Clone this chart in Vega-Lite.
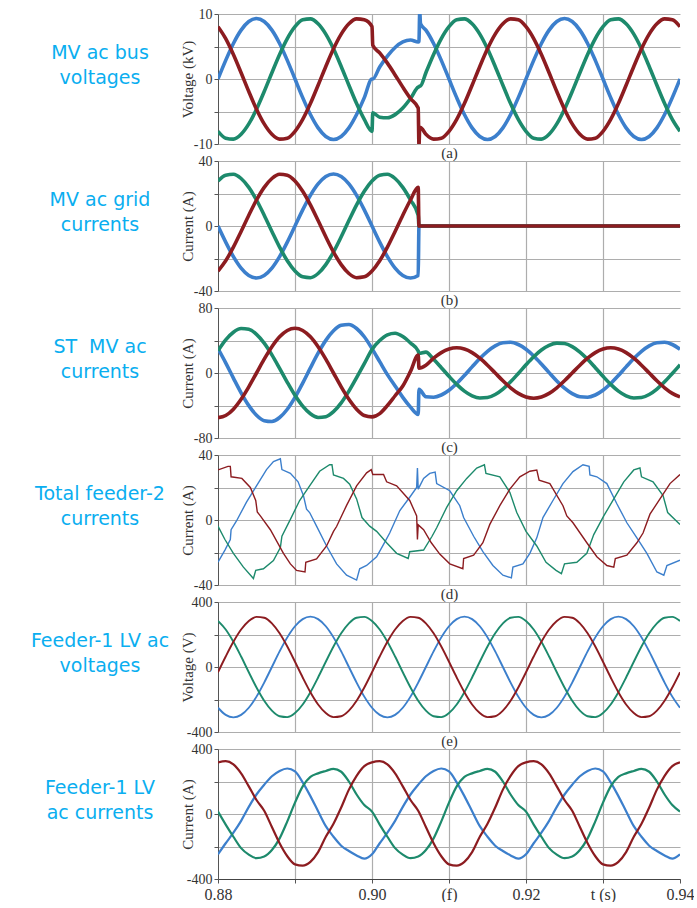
{
"$schema": "https://vega.github.io/schema/vega-lite/v6.json",
"background": "white",
"padding": {"left": 0, "top": 7, "right": 0, "bottom": 0},
"config": {
  "view": {"stroke": null},
  "axis": {"gridColor": "#adadad", "gridWidth": 1.2, "domainColor": "#555555", "tickColor": "#555555", "labelFont": "Liberation Serif", "labelFontSize": 14, "labelColor": "#333333", "titleFont": "Liberation Serif", "titleFontSize": 15, "titleFontWeight": "normal", "titleColor": "#333333"},
  "axisY": {"tickSize": 4, "labelPadding": 2, "titlePadding": 3, "minExtent": 20, "maxExtent": 20, "grid": true},
  "axisX": {"grid": true},
  "line": {"clip": true}
},
"datasets": {
"pa": [
{"t":0.880,"b":0,"g":-8.05,"r":8.05},{"t":0.881,"b":2.87,"g":-9.10,"r":6.22},{"t":0.882,"b":5.47,"g":-9.25,"r":3.78},{"t":0.883,"b":7.52,"g":-8.50,"r":0.97},{"t":0.884,"b":8.84,"g":-6.91,"r":-1.93},{"t":0.885,"b":9.3,"g":-4.65,"r":-4.65},{"t":0.886,"b":8.84,"g":-1.93,"r":-6.91},{"t":0.887,"b":7.52,"g":0.97,"r":-8.50},{"t":0.888,"b":5.47,"g":3.78,"r":-9.25},{"t":0.889,"b":2.87,"g":6.22,"r":-9.10},
{"t":0.890,"b":0,"g":8.05,"r":-8.05},{"t":0.891,"b":-2.87,"g":9.10,"r":-6.22},{"t":0.892,"b":-5.47,"g":9.25,"r":-3.78},{"t":0.893,"b":-7.52,"g":8.50,"r":-0.97},{"t":0.894,"b":-8.84,"g":6.91,"r":1.93},{"t":0.895,"b":-9.3,"g":4.65,"r":4.65},{"t":0.896,"b":-8.84,"g":1.93,"r":6.91},{"t":0.897,"b":-7.52,"g":-0.97,"r":8.50},{"t":0.898,"b":-5.47,"g":-3.78,"r":9.25},{"t":0.899,"b":-2.87,"g":-6.22,"r":9.10},
{"t":0.900,"b":0,"g":-8.05,"r":8.05},{"t":0.9001,"b":0,"g":-5.19,"r":5.19},{"t":0.901,"b":1.85,"g":-5.87,"r":4.01},{"t":0.902,"b":3.53,"g":-5.97,"r":2.44},{"t":0.903,"b":4.85,"g":-5.48,"r":0.63},{"t":0.904,"b":5.70,"g":-4.46,"r":-1.25},{"t":0.905,"b":6.0,"g":-3.0,"r":-3.0},{"t":0.906,"b":5.70,"g":-1.25,"r":-4.46},{"t":0.9061,"b":5.8,"g":-1.2,"r":-10.2},{"t":0.9062,"b":10.3,"g":-1.1,"r":-7.5},{"t":0.9063,"b":8.5,"g":-1.07,"r":-7.47},
{"t":0.907,"b":7.52,"g":0.97,"r":-8.50},{"t":0.908,"b":5.47,"g":3.78,"r":-9.25},{"t":0.909,"b":2.87,"g":6.22,"r":-9.10},
{"t":0.910,"b":0,"g":8.05,"r":-8.05},{"t":0.911,"b":-2.87,"g":9.10,"r":-6.22},{"t":0.912,"b":-5.47,"g":9.25,"r":-3.78},{"t":0.913,"b":-7.52,"g":8.50,"r":-0.97},{"t":0.914,"b":-8.84,"g":6.91,"r":1.93},{"t":0.915,"b":-9.3,"g":4.65,"r":4.65},{"t":0.916,"b":-8.84,"g":1.93,"r":6.91},{"t":0.917,"b":-7.52,"g":-0.97,"r":8.50},{"t":0.918,"b":-5.47,"g":-3.78,"r":9.25},{"t":0.919,"b":-2.87,"g":-6.22,"r":9.10},
{"t":0.920,"b":0,"g":-8.05,"r":8.05},{"t":0.921,"b":2.87,"g":-9.10,"r":6.22},{"t":0.922,"b":5.47,"g":-9.25,"r":3.78},{"t":0.923,"b":7.52,"g":-8.50,"r":0.97},{"t":0.924,"b":8.84,"g":-6.91,"r":-1.93},{"t":0.925,"b":9.3,"g":-4.65,"r":-4.65},{"t":0.926,"b":8.84,"g":-1.93,"r":-6.91},{"t":0.927,"b":7.52,"g":0.97,"r":-8.50},{"t":0.928,"b":5.47,"g":3.78,"r":-9.25},{"t":0.929,"b":2.87,"g":6.22,"r":-9.10},
{"t":0.930,"b":0,"g":8.05,"r":-8.05},{"t":0.931,"b":-2.87,"g":9.10,"r":-6.22},{"t":0.932,"b":-5.47,"g":9.25,"r":-3.78},{"t":0.933,"b":-7.52,"g":8.50,"r":-0.97},{"t":0.934,"b":-8.84,"g":6.91,"r":1.93},{"t":0.935,"b":-9.3,"g":4.65,"r":4.65},{"t":0.936,"b":-8.84,"g":1.93,"r":6.91},{"t":0.937,"b":-7.52,"g":-0.97,"r":8.50},{"t":0.938,"b":-5.47,"g":-3.78,"r":9.25},{"t":0.939,"b":-2.87,"g":-6.22,"r":9.10},
{"t":0.940,"b":0,"g":-8.05,"r":8.05}
],
"pb": [
{"t":0.880,"b":0,"g":27.71,"r":-27.71},{"t":0.881,"b":-9.89,"g":31.30,"r":-21.41},{"t":0.882,"b":-18.82,"g":31.82,"r":-13.01},{"t":0.883,"b":-25.89,"g":29.23,"r":-3.34},{"t":0.884,"b":-30.43,"g":23.78,"r":6.65},{"t":0.885,"b":-32,"g":16.0,"r":16.0},{"t":0.886,"b":-30.43,"g":6.65,"r":23.78},{"t":0.887,"b":-25.89,"g":-3.34,"r":29.23},{"t":0.888,"b":-18.82,"g":-13.01,"r":31.82},{"t":0.889,"b":-9.89,"g":-21.41,"r":31.30},
{"t":0.890,"b":0,"g":-27.71,"r":27.71},{"t":0.891,"b":9.89,"g":-31.30,"r":21.41},{"t":0.892,"b":18.82,"g":-31.82,"r":13.01},{"t":0.893,"b":25.89,"g":-29.23,"r":3.34},{"t":0.894,"b":30.43,"g":-23.78,"r":-6.65},{"t":0.895,"b":32,"g":-16.0,"r":-16.0},{"t":0.896,"b":30.43,"g":-6.65,"r":-23.78},{"t":0.897,"b":25.89,"g":3.34,"r":-29.23},{"t":0.898,"b":18.82,"g":13.01,"r":-31.82},{"t":0.899,"b":9.89,"g":21.41,"r":-31.30},
{"t":0.900,"b":0,"g":27.71,"r":-27.71},{"t":0.901,"b":-9.89,"g":31.30,"r":-21.41},{"t":0.902,"b":-18.82,"g":31.82,"r":-13.01},{"t":0.903,"b":-25.89,"g":29.23,"r":-3.34},{"t":0.904,"b":-30.43,"g":23.78,"r":6.65},{"t":0.905,"b":-32,"g":16.0,"r":16.0},{"t":0.906,"b":-30.43,"g":6.65,"r":23.78},
{"t":0.9061,"b":0,"g":0,"r":0},{"t":0.920,"b":0,"g":0,"r":0},{"t":0.940,"b":0,"g":0,"r":0}
],
"pc": [
{"t":0.880,"b":30,"g":27.5,"r":-55},{"t":0.881,"b":12.47,"g":40.87,"r":-52.3},{"t":0.882,"b":-6.27,"g":50.24,"r":-44.5},{"t":0.883,"b":-24.40,"g":54.70,"r":-32.3},{"t":0.884,"b":-40.15,"g":53.79,"r":-17.0},{"t":0.885,"b":-51.96,"g":47.63,"r":0},{"t":0.886,"b":-58.68,"g":36.80,"r":17.0},{"t":0.887,"b":-59.67,"g":22.37,"r":32.3},{"t":0.888,"b":-54.81,"g":5.75,"r":44.5},{"t":0.889,"b":-44.59,"g":-11.43,"r":52.3},
{"t":0.890,"b":-30,"g":-27.5,"r":55},{"t":0.891,"b":-12.47,"g":-40.87,"r":52.3},{"t":0.892,"b":6.27,"g":-50.24,"r":44.5},{"t":0.893,"b":24.40,"g":-54.70,"r":32.3},{"t":0.894,"b":40.15,"g":-53.79,"r":17.0},{"t":0.895,"b":51.96,"g":-47.63,"r":0},{"t":0.896,"b":58.68,"g":-36.80,"r":-17.0},{"t":0.897,"b":59.67,"g":-22.37,"r":-32.3},{"t":0.898,"b":54.81,"g":-5.75,"r":-44.5},{"t":0.899,"b":44.59,"g":11.43,"r":-52.3},
{"t":0.900,"b":30,"g":29,"r":-54},{"t":0.901,"b":14,"g":40,"r":-50},{"t":0.902,"b":-2,"g":47,"r":-40},{"t":0.903,"b":-16,"g":49,"r":-28},{"t":0.904,"b":-30,"g":45,"r":-16},{"t":0.905,"b":-42,"g":37,"r":2},{"t":0.906,"b":-51,"g":27,"r":22},
{"t":0.9061,"b":-20,"g":24,"r":6},{"t":0.907,"b":-29.25,"g":25.75,"r":9.58},{"t":0.908,"b":-29.81,"g":16.83,"r":18.23},{"t":0.909,"b":-27.06,"g":6.55,"r":25.08},
{"t":0.910,"b":-21.27,"g":-4.07,"r":29.48},{"t":0.911,"b":-13,"g":-14,"r":31},{"t":0.912,"b":-3.07,"g":-22.27,"r":29.48},{"t":0.913,"b":7.55,"g":-28.06,"r":25.08},{"t":0.914,"b":17.83,"g":-30.81,"r":18.23},{"t":0.915,"b":26.75,"g":-30.25,"r":9.58},{"t":0.916,"b":33.44,"g":-26.44,"r":0},{"t":0.917,"b":37.25,"g":-19.75,"r":-9.58},{"t":0.918,"b":37.81,"g":-10.83,"r":-18.23},{"t":0.919,"b":35.06,"g":-0.55,"r":-25.08},
{"t":0.920,"b":29.27,"g":10.07,"r":-29.48},{"t":0.921,"b":21,"g":20,"r":-31},{"t":0.922,"b":11.07,"g":28.27,"r":-29.48},{"t":0.923,"b":0.45,"g":34.06,"r":-25.08},{"t":0.924,"b":-9.83,"g":36.81,"r":-18.23},{"t":0.925,"b":-18.75,"g":36.25,"r":-9.58},{"t":0.926,"b":-25.44,"g":32.44,"r":0},{"t":0.927,"b":-29.25,"g":25.75,"r":9.58},{"t":0.928,"b":-29.81,"g":16.83,"r":18.23},{"t":0.929,"b":-27.06,"g":6.55,"r":25.08},
{"t":0.930,"b":-21.27,"g":-4.07,"r":29.48},{"t":0.931,"b":-13,"g":-14,"r":31},{"t":0.932,"b":-3.07,"g":-22.27,"r":29.48},{"t":0.933,"b":7.55,"g":-28.06,"r":25.08},{"t":0.934,"b":17.83,"g":-30.81,"r":18.23},{"t":0.935,"b":26.75,"g":-30.25,"r":9.58},{"t":0.936,"b":33.44,"g":-26.44,"r":0},{"t":0.937,"b":37.25,"g":-19.75,"r":-9.58},{"t":0.938,"b":37.81,"g":-10.83,"r":-18.23},{"t":0.939,"b":35.06,"g":-0.55,"r":-25.08},
{"t":0.940,"b":29.27,"g":10.07,"r":-29.48}
],
"pd": [
{"t":0.8800,"s":"b","v":-26},{"t":0.8809,"s":"b","v":-18.5},{"t":0.8816,"s":"b","v":-12},{"t":0.8817,"s":"b","v":-6},{"t":0.8824,"s":"b","v":-0.6},{"t":0.8837,"s":"b","v":11},{"t":0.8850,"s":"b","v":21},{"t":0.8863,"s":"b","v":31},{"t":0.8872,"s":"b","v":36},{"t":0.8881,"s":"b","v":37.7},{"t":0.8883,"s":"b","v":31},{"t":0.8894,"s":"b","v":28.7},{"t":0.8904,"s":"b","v":23.5},{"t":0.8911,"s":"b","v":15},{"t":0.8915,"s":"b","v":6.7},{"t":0.8919,"s":"b","v":4.6},{"t":0.8928,"s":"b","v":-3.8},{"t":0.8941,"s":"b","v":-16},{"t":0.8954,"s":"b","v":-27},{"t":0.8967,"s":"b","v":-34},{"t":0.8980,"s":"b","v":-37},{"t":0.8984,"s":"b","v":-30},{"t":0.8993,"s":"b","v":-28},{"t":0.9006,"s":"b","v":-22.6},{"t":0.9015,"s":"b","v":-15},{"t":0.9023,"s":"b","v":-8},{"t":0.9036,"s":"b","v":5.7},{"t":0.9049,"s":"b","v":14},{"t":0.9058,"s":"b","v":20},{"t":0.9059,"s":"b","v":32},{"t":0.9060,"s":"b","v":19},{"t":0.9067,"s":"b","v":25.6},{"t":0.9075,"s":"b","v":28.7},{"t":0.9082,"s":"b","v":29.5},{"t":0.9084,"s":"b","v":22.4},{"t":0.9101,"s":"b","v":18},{"t":0.9114,"s":"b","v":8.8},{"t":0.9119,"s":"b","v":1.5},{"t":0.9132,"s":"b","v":-10},{"t":0.9144,"s":"b","v":-19.5},{"t":0.9157,"s":"b","v":-28},{"t":0.9170,"s":"b","v":-34},{"t":0.9181,"s":"b","v":-35.6},{"t":0.9183,"s":"b","v":-29},{"t":0.9196,"s":"b","v":-27},{"t":0.9205,"s":"b","v":-20.5},{"t":0.9214,"s":"b","v":-11},{"t":0.9222,"s":"b","v":1.5},{"t":0.9235,"s":"b","v":12},{"t":0.9248,"s":"b","v":22.4},{"t":0.9261,"s":"b","v":29.8},{"t":0.9274,"s":"b","v":34},{"t":0.9282,"s":"b","v":33},{"t":0.9283,"s":"b","v":27.7},{"t":0.9292,"s":"b","v":26.6},{"t":0.9305,"s":"b","v":22.4},{"t":0.9318,"s":"b","v":10},{"t":0.9331,"s":"b","v":-1.7},{"t":0.9344,"s":"b","v":-11},{"t":0.9357,"s":"b","v":-20.5},{"t":0.9370,"s":"b","v":-32},{"t":0.9379,"s":"b","v":-34},{"t":0.9383,"s":"b","v":-28},{"t":0.9400,"s":"b","v":-24.7},
{"t":0.8800,"s":"g","v":-3.8},{"t":0.8809,"s":"g","v":-12},{"t":0.8820,"s":"g","v":-20.5},{"t":0.8833,"s":"g","v":-29},{"t":0.8846,"s":"g","v":-36},{"t":0.8849,"s":"g","v":-31},{"t":0.8859,"s":"g","v":-30},{"t":0.8872,"s":"g","v":-25},{"t":0.8881,"s":"g","v":-17},{"t":0.8883,"s":"g","v":-10},{"t":0.8894,"s":"g","v":0.4},{"t":0.8906,"s":"g","v":12},{"t":0.8919,"s":"g","v":21},{"t":0.8932,"s":"g","v":30},{"t":0.8945,"s":"g","v":34},{"t":0.8948,"s":"g","v":34},{"t":0.8950,"s":"g","v":27.7},{"t":0.8963,"s":"g","v":25.6},{"t":0.8971,"s":"g","v":22},{"t":0.8980,"s":"g","v":13},{"t":0.8987,"s":"g","v":1.5},{"t":0.8997,"s":"g","v":-3.8},{"t":0.9006,"s":"g","v":-7},{"t":0.9019,"s":"g","v":-14},{"t":0.9032,"s":"g","v":-20.5},{"t":0.9047,"s":"g","v":-23.7},{"t":0.9049,"s":"g","v":-19.5},{"t":0.9067,"s":"g","v":-18.5},{"t":0.9078,"s":"g","v":-10},{"t":0.9084,"s":"g","v":-4.8},{"t":0.9097,"s":"g","v":7.8},{"t":0.9110,"s":"g","v":18},{"t":0.9123,"s":"g","v":25.6},{"t":0.9136,"s":"g","v":32},{"t":0.9146,"s":"g","v":34},{"t":0.9148,"s":"g","v":28.7},{"t":0.9166,"s":"g","v":26.6},{"t":0.9179,"s":"g","v":17},{"t":0.9188,"s":"g","v":4.6},{"t":0.9200,"s":"g","v":-7},{"t":0.9214,"s":"g","v":-16},{"t":0.9226,"s":"g","v":-26},{"t":0.9239,"s":"g","v":-31},{"t":0.9246,"s":"g","v":-33},{"t":0.9250,"s":"g","v":-27},{"t":0.9266,"s":"g","v":-26},{"t":0.9279,"s":"g","v":-20.5},{"t":0.9288,"s":"g","v":-9},{"t":0.9301,"s":"g","v":2.5},{"t":0.9314,"s":"g","v":13},{"t":0.9327,"s":"g","v":23.5},{"t":0.9340,"s":"g","v":30.8},{"t":0.9348,"s":"g","v":32},{"t":0.9350,"s":"g","v":26.6},{"t":0.9365,"s":"g","v":23.5},{"t":0.9378,"s":"g","v":15},{"t":0.9384,"s":"g","v":4.6},{"t":0.9400,"s":"g","v":-2.7},
{"t":0.8800,"s":"r","v":30.8},{"t":0.8813,"s":"r","v":33},{"t":0.8816,"s":"r","v":33},{"t":0.8817,"s":"r","v":26.6},{"t":0.8831,"s":"r","v":25.6},{"t":0.8842,"s":"r","v":20},{"t":0.8849,"s":"r","v":12},{"t":0.8851,"s":"r","v":5},{"t":0.8855,"s":"r","v":2.5},{"t":0.8868,"s":"r","v":-6},{"t":0.8885,"s":"r","v":-20.5},{"t":0.8894,"s":"r","v":-27},{"t":0.8902,"s":"r","v":-31},{"t":0.8913,"s":"r","v":-32},{"t":0.8914,"s":"r","v":-26},{"t":0.8928,"s":"r","v":-24},{"t":0.8941,"s":"r","v":-16},{"t":0.8950,"s":"r","v":-7},{"t":0.8954,"s":"r","v":-4},{"t":0.8967,"s":"r","v":9},{"t":0.8980,"s":"r","v":21},{"t":0.8993,"s":"r","v":29},{"t":0.8999,"s":"r","v":31},{"t":0.9001,"s":"r","v":28},{"t":0.9015,"s":"r","v":28},{"t":0.9019,"s":"r","v":23.5},{"t":0.9032,"s":"r","v":21},{"t":0.9049,"s":"r","v":12},{"t":0.9058,"s":"r","v":2.5},{"t":0.9059,"s":"r","v":-12},{"t":0.9060,"s":"r","v":-3},{"t":0.9067,"s":"r","v":-6},{"t":0.9077,"s":"r","v":-14},{"t":0.9088,"s":"r","v":-21},{"t":0.9101,"s":"r","v":-27},{"t":0.9118,"s":"r","v":-30},{"t":0.9119,"s":"r","v":-23.7},{"t":0.9132,"s":"r","v":-21.6},{"t":0.9144,"s":"r","v":-14},{"t":0.9153,"s":"r","v":-2.7},{"t":0.9166,"s":"r","v":8.8},{"t":0.9179,"s":"r","v":19},{"t":0.9192,"s":"r","v":26.6},{"t":0.9205,"s":"r","v":30},{"t":0.9214,"s":"r","v":30.8},{"t":0.9217,"s":"r","v":24.5},{"t":0.9231,"s":"r","v":22.4},{"t":0.9248,"s":"r","v":8.8},{"t":0.9253,"s":"r","v":2.5},{"t":0.9261,"s":"r","v":-1.7},{"t":0.9279,"s":"r","v":-14},{"t":0.9292,"s":"r","v":-22.6},{"t":0.9305,"s":"r","v":-28},{"t":0.9314,"s":"r","v":-29},{"t":0.9316,"s":"r","v":-23.7},{"t":0.9331,"s":"r","v":-21.6},{"t":0.9344,"s":"r","v":-14},{"t":0.9352,"s":"r","v":-8},{"t":0.9361,"s":"r","v":3.6},{"t":0.9374,"s":"r","v":13},{"t":0.9387,"s":"r","v":22.4},{"t":0.9400,"s":"r","v":28}
],
"pe": [
{"t":0.880,"b":-250.8,"g":283.2,"r":-32.4},{"t":0.881,"b":-294.8,"g":230.4,"r":64.4},{"t":0.882,"b":-310,"g":155,"r":155},{"t":0.883,"b":-294.8,"g":64.4,"r":230.4},{"t":0.884,"b":-250.8,"g":-32.4,"r":283.2},{"t":0.885,"b":-182.3,"g":-126.1,"r":308.3},{"t":0.886,"b":-95.8,"g":-207.4,"r":303.2},{"t":0.887,"b":0,"g":-268.5,"r":268.5},{"t":0.888,"b":95.8,"g":-303.2,"r":207.4},{"t":0.889,"b":182.3,"g":-308.3,"r":126.1},
{"t":0.890,"b":250.8,"g":-283.2,"r":32.4},{"t":0.891,"b":294.8,"g":-230.4,"r":-64.4},{"t":0.892,"b":310,"g":-155,"r":-155},{"t":0.893,"b":294.8,"g":-64.4,"r":-230.4},{"t":0.894,"b":250.8,"g":32.4,"r":-283.2},{"t":0.895,"b":182.3,"g":126.1,"r":-308.3},{"t":0.896,"b":95.8,"g":207.4,"r":-303.2},{"t":0.897,"b":0,"g":268.5,"r":-268.5},{"t":0.898,"b":-95.8,"g":303.2,"r":-207.4},{"t":0.899,"b":-182.3,"g":308.3,"r":-126.1},
{"t":0.900,"b":-250.8,"g":283.2,"r":-32.4},{"t":0.901,"b":-294.8,"g":230.4,"r":64.4},{"t":0.902,"b":-310,"g":155,"r":155},{"t":0.903,"b":-294.8,"g":64.4,"r":230.4},{"t":0.904,"b":-250.8,"g":-32.4,"r":283.2},{"t":0.905,"b":-182.3,"g":-126.1,"r":308.3},{"t":0.906,"b":-95.8,"g":-207.4,"r":303.2},{"t":0.907,"b":0,"g":-268.5,"r":268.5},{"t":0.908,"b":95.8,"g":-303.2,"r":207.4},{"t":0.909,"b":182.3,"g":-308.3,"r":126.1},
{"t":0.910,"b":250.8,"g":-283.2,"r":32.4},{"t":0.911,"b":294.8,"g":-230.4,"r":-64.4},{"t":0.912,"b":310,"g":-155,"r":-155},{"t":0.913,"b":294.8,"g":-64.4,"r":-230.4},{"t":0.914,"b":250.8,"g":32.4,"r":-283.2},{"t":0.915,"b":182.3,"g":126.1,"r":-308.3},{"t":0.916,"b":95.8,"g":207.4,"r":-303.2},{"t":0.917,"b":0,"g":268.5,"r":-268.5},{"t":0.918,"b":-95.8,"g":303.2,"r":-207.4},{"t":0.919,"b":-182.3,"g":308.3,"r":-126.1},
{"t":0.920,"b":-250.8,"g":283.2,"r":-32.4},{"t":0.921,"b":-294.8,"g":230.4,"r":64.4},{"t":0.922,"b":-310,"g":155,"r":155},{"t":0.923,"b":-294.8,"g":64.4,"r":230.4},{"t":0.924,"b":-250.8,"g":-32.4,"r":283.2},{"t":0.925,"b":-182.3,"g":-126.1,"r":308.3},{"t":0.926,"b":-95.8,"g":-207.4,"r":303.2},{"t":0.927,"b":0,"g":-268.5,"r":268.5},{"t":0.928,"b":95.8,"g":-303.2,"r":207.4},{"t":0.929,"b":182.3,"g":-308.3,"r":126.1},
{"t":0.930,"b":250.8,"g":-283.2,"r":32.4},{"t":0.931,"b":294.8,"g":-230.4,"r":-64.4},{"t":0.932,"b":310,"g":-155,"r":-155},{"t":0.933,"b":294.8,"g":-64.4,"r":-230.4},{"t":0.934,"b":250.8,"g":32.4,"r":-283.2},{"t":0.935,"b":182.3,"g":126.1,"r":-308.3},{"t":0.936,"b":95.8,"g":207.4,"r":-303.2},{"t":0.937,"b":0,"g":268.5,"r":-268.5},{"t":0.938,"b":-95.8,"g":303.2,"r":-207.4},{"t":0.939,"b":-182.3,"g":308.3,"r":-126.1},
{"t":0.940,"b":-250.8,"g":283.2,"r":-32.4}
],
"pf": [
{"t":0.880,"b":-248,"g":15,"r":318},{"t":0.881,"b":-180,"g":-65,"r":325},{"t":0.882,"b":-115,"g":-140,"r":305},{"t":0.883,"b":-42,"g":-210,"r":250},{"t":0.884,"b":44,"g":-250,"r":170},{"t":0.885,"b":120,"g":-272,"r":86},{"t":0.886,"b":180,"g":-262,"r":20},{"t":0.887,"b":232,"g":-222,"r":-80},{"t":0.888,"b":265,"g":-150,"r":-180},{"t":0.889,"b":280,"g":-45,"r":-260},
{"t":0.890,"b":262,"g":70,"r":-310},{"t":0.891,"b":195,"g":170,"r":-318},{"t":0.892,"b":110,"g":228,"r":-295},{"t":0.893,"b":17,"g":250,"r":-235},{"t":0.894,"b":-75,"g":265,"r":-140},{"t":0.895,"b":-140,"g":278,"r":-60},{"t":0.896,"b":-195,"g":260,"r":40},{"t":0.897,"b":-228,"g":200,"r":150},{"t":0.898,"b":-255,"g":120,"r":235},{"t":0.899,"b":-275,"g":55,"r":295},
{"t":0.900,"b":-248,"g":15,"r":318},{"t":0.901,"b":-180,"g":-65,"r":325},{"t":0.902,"b":-115,"g":-140,"r":305},{"t":0.903,"b":-42,"g":-210,"r":250},{"t":0.904,"b":44,"g":-250,"r":170},{"t":0.905,"b":120,"g":-272,"r":86},{"t":0.906,"b":180,"g":-262,"r":20},{"t":0.907,"b":232,"g":-222,"r":-80},{"t":0.908,"b":265,"g":-150,"r":-180},{"t":0.909,"b":280,"g":-45,"r":-260},
{"t":0.910,"b":262,"g":70,"r":-310},{"t":0.911,"b":195,"g":170,"r":-318},{"t":0.912,"b":110,"g":228,"r":-295},{"t":0.913,"b":17,"g":250,"r":-235},{"t":0.914,"b":-75,"g":265,"r":-140},{"t":0.915,"b":-140,"g":278,"r":-60},{"t":0.916,"b":-195,"g":260,"r":40},{"t":0.917,"b":-228,"g":200,"r":150},{"t":0.918,"b":-255,"g":120,"r":235},{"t":0.919,"b":-275,"g":55,"r":295},
{"t":0.920,"b":-248,"g":15,"r":318},{"t":0.921,"b":-180,"g":-65,"r":325},{"t":0.922,"b":-115,"g":-140,"r":305},{"t":0.923,"b":-42,"g":-210,"r":250},{"t":0.924,"b":44,"g":-250,"r":170},{"t":0.925,"b":120,"g":-272,"r":86},{"t":0.926,"b":180,"g":-262,"r":20},{"t":0.927,"b":232,"g":-222,"r":-80},{"t":0.928,"b":265,"g":-150,"r":-180},{"t":0.929,"b":280,"g":-45,"r":-260},
{"t":0.930,"b":262,"g":70,"r":-310},{"t":0.931,"b":195,"g":170,"r":-318},{"t":0.932,"b":110,"g":228,"r":-295},{"t":0.933,"b":17,"g":250,"r":-235},{"t":0.934,"b":-75,"g":265,"r":-140},{"t":0.935,"b":-140,"g":278,"r":-60},{"t":0.936,"b":-195,"g":260,"r":40},{"t":0.937,"b":-228,"g":200,"r":150},{"t":0.938,"b":-255,"g":120,"r":235},{"t":0.939,"b":-275,"g":55,"r":295},
{"t":0.940,"b":-248,"g":15,"r":318}
]
},
"concat": [
  {"width": 200, "height": 78, "data": {"values": [{"txt": "MV ac bus\nvoltages"}]}, "mark": {"type": "text", "lineBreak": "\n", "font": "DejaVu Sans", "fontSize": 19, "color": "#0aaef0", "lineHeight": 25, "align": "center", "baseline": "middle"}, "encoding": {"text": {"field": "txt"}}},
  {"width": 462, "height": 130, "data": {"name": "pa"}, "transform": [{"fold": ["b", "g", "r"], "as": ["s", "v"]}],
   "mark": {"type": "line", "interpolate": "monotone", "strokeWidth": 3.6, "clip": true},
   "encoding": {
     "x": {"field": "t", "type": "quantitative", "scale": {"domain": [0.88, 0.94], "nice": false, "zero": false}, "axis": {"title": "(a)", "labels": false, "ticks": false, "domain": false, "values": [0.89, 0.9, 0.91, 0.92, 0.93], "titlePadding": 1}},
     "y": {"field": "v", "type": "quantitative", "scale": {"domain": [-10, 10], "nice": false}, "axis": {"title": "Voltage (kV)", "values": [-10, -5, 0, 5, 10], "labelExpr": "datum.value == 10 ? '10' : datum.value == 0 ? '0' : datum.value == -10 ? '-10' : ''"}},
     "color": {"field": "s", "type": "nominal", "scale": {"domain": ["b", "g", "r"], "range": ["#3c7fcc", "#1d8a6c", "#8c1c20"]}, "legend": null}
   }},
  {"width": 200, "height": 78, "data": {"values": [{"txt": "MV ac grid\ncurrents"}]}, "mark": {"type": "text", "lineBreak": "\n", "font": "DejaVu Sans", "fontSize": 19, "color": "#0aaef0", "lineHeight": 25, "align": "center", "baseline": "middle"}, "encoding": {"text": {"field": "txt"}}},
  {"width": 462, "height": 130, "data": {"name": "pb"}, "transform": [{"fold": ["b", "g", "r"], "as": ["s", "v"]}],
   "mark": {"type": "line", "interpolate": "monotone", "strokeWidth": 3.6, "clip": true},
   "encoding": {
     "x": {"field": "t", "type": "quantitative", "scale": {"domain": [0.88, 0.94], "nice": false, "zero": false}, "axis": {"title": "(b)", "labels": false, "ticks": false, "domain": false, "values": [0.89, 0.9, 0.91, 0.92, 0.93], "titlePadding": 1}},
     "y": {"field": "v", "type": "quantitative", "scale": {"domain": [-40, 40], "nice": false}, "axis": {"title": "Current (A)", "values": [-40, -20, 0, 20, 40], "labelExpr": "datum.value == 40 ? '40' : datum.value == 0 ? '0' : datum.value == -40 ? '-40' : ''"}},
     "color": {"field": "s", "type": "nominal", "scale": {"domain": ["b", "g", "r"], "range": ["#3c7fcc", "#1d8a6c", "#8c1c20"]}, "legend": null}
   }},
  {"width": 200, "height": 78, "data": {"values": [{"txt": "ST\u00a0 MV ac\ncurrents"}]}, "mark": {"type": "text", "lineBreak": "\n", "font": "DejaVu Sans", "fontSize": 19, "color": "#0aaef0", "lineHeight": 25, "align": "center", "baseline": "middle"}, "encoding": {"text": {"field": "txt"}}},
  {"width": 462, "height": 130, "data": {"name": "pc"}, "transform": [{"fold": ["b", "g", "r"], "as": ["s", "v"]}],
   "mark": {"type": "line", "interpolate": "monotone", "strokeWidth": 3.6, "clip": true},
   "encoding": {
     "x": {"field": "t", "type": "quantitative", "scale": {"domain": [0.88, 0.94], "nice": false, "zero": false}, "axis": {"title": "(c)", "labels": false, "ticks": false, "domain": false, "values": [0.89, 0.9, 0.91, 0.92, 0.93], "titlePadding": 1}},
     "y": {"field": "v", "type": "quantitative", "scale": {"domain": [-80, 80], "nice": false}, "axis": {"title": "Current (A)", "values": [-80, -40, 0, 40, 80], "labelExpr": "datum.value == 80 ? '80' : datum.value == 0 ? '0' : datum.value == -80 ? '-80' : ''"}},
     "color": {"field": "s", "type": "nominal", "scale": {"domain": ["b", "g", "r"], "range": ["#3c7fcc", "#1d8a6c", "#8c1c20"]}, "legend": null}
   }},
  {"width": 200, "height": 78, "data": {"values": [{"txt": "Total feeder-2\ncurrents"}]}, "mark": {"type": "text", "lineBreak": "\n", "font": "DejaVu Sans", "fontSize": 19, "color": "#0aaef0", "lineHeight": 25, "align": "center", "baseline": "middle"}, "encoding": {"text": {"field": "txt"}}},
  {"width": 462, "height": 130, "data": {"name": "pd"},
   "mark": {"type": "line", "interpolate": "linear", "strokeWidth": 1.4, "clip": true},
   "encoding": {
     "x": {"field": "t", "type": "quantitative", "scale": {"domain": [0.88, 0.94], "nice": false, "zero": false}, "axis": {"title": "(d)", "labels": false, "ticks": false, "domain": false, "values": [0.89, 0.9, 0.91, 0.92, 0.93], "titlePadding": 1}},
     "y": {"field": "v", "type": "quantitative", "scale": {"domain": [-40, 40], "nice": false}, "axis": {"title": "Current (A)", "values": [-40, -20, 0, 20, 40], "labelExpr": "datum.value == 40 ? '40' : datum.value == 0 ? '0' : datum.value == -40 ? '-40' : ''"}},
     "color": {"field": "s", "type": "nominal", "scale": {"domain": ["b", "g", "r"], "range": ["#3c7fcc", "#1d8a6c", "#8c1c20"]}, "legend": null}
   }},
  {"width": 200, "height": 78, "data": {"values": [{"txt": "Feeder-1 LV ac\nvoltages"}]}, "mark": {"type": "text", "lineBreak": "\n", "font": "DejaVu Sans", "fontSize": 19, "color": "#0aaef0", "lineHeight": 25, "align": "center", "baseline": "middle"}, "encoding": {"text": {"field": "txt"}}},
  {"width": 462, "height": 130, "data": {"name": "pe"}, "transform": [{"fold": ["b", "g", "r"], "as": ["s", "v"]}],
   "mark": {"type": "line", "interpolate": "monotone", "strokeWidth": 1.9, "clip": true},
   "encoding": {
     "x": {"field": "t", "type": "quantitative", "scale": {"domain": [0.88, 0.94], "nice": false, "zero": false}, "axis": {"title": "(e)", "labels": false, "ticks": false, "domain": false, "values": [0.89, 0.9, 0.91, 0.92, 0.93], "titlePadding": 1}},
     "y": {"field": "v", "type": "quantitative", "scale": {"domain": [-400, 400], "nice": false}, "axis": {"title": "Voltage (V)", "values": [-400, -200, 0, 200, 400], "labelExpr": "datum.value == 400 ? '400' : datum.value == 0 ? '0' : datum.value == -400 ? '-400' : ''"}},
     "color": {"field": "s", "type": "nominal", "scale": {"domain": ["b", "g", "r"], "range": ["#3c7fcc", "#1d8a6c", "#8c1c20"]}, "legend": null}
   }},
  {"width": 200, "height": 78, "data": {"values": [{"txt": "Feeder-1 LV\nac currents"}]}, "mark": {"type": "text", "lineBreak": "\n", "font": "DejaVu Sans", "fontSize": 19, "color": "#0aaef0", "lineHeight": 25, "align": "center", "baseline": "middle"}, "encoding": {"text": {"field": "txt"}}},
  {"width": 462, "height": 130, "data": {"name": "pf"}, "transform": [{"fold": ["b", "g", "r"], "as": ["s", "v"]}],
   "mark": {"type": "line", "interpolate": "monotone", "strokeWidth": 2.2, "clip": true},
   "encoding": {
     "x": {"field": "t", "type": "quantitative", "scale": {"domain": [0.88, 0.94], "nice": false, "zero": false}, "axis": {"title": null, "values": [0.88, 0.89, 0.9, 0.91, 0.92, 0.93, 0.94], "labelExpr": "datum.value < 0.885 ? '0.88' : datum.value < 0.895 ? '' : datum.value < 0.905 ? '0.90' : datum.value < 0.915 ? '(f)' : datum.value < 0.925 ? '0.92' : datum.value < 0.935 ? 't (s)' : '0.94'", "labelFontSize": 16, "labelPadding": 3, "labelFlush": false, "labelOverlap": false, "tickSize": 4, "domainColor": "#444444", "gridOpacity": {"condition": {"test": "datum.value < 0.885 || datum.value > 0.935", "value": 0}, "value": 1}}},
     "y": {"field": "v", "type": "quantitative", "scale": {"domain": [-400, 400], "nice": false}, "axis": {"title": "Current (A)", "values": [-400, -200, 0, 200, 400], "labelExpr": "datum.value == 400 ? '400' : datum.value == 0 ? '0' : datum.value == -400 ? '-400' : ''"}},
     "color": {"field": "s", "type": "nominal", "scale": {"domain": ["b", "g", "r"], "range": ["#3c7fcc", "#1d8a6c", "#8c1c20"]}, "legend": null}
   }}
],
"columns": 2,
"spacing": {"row": 17, "column": 18},
"bounds": "flush"
}
